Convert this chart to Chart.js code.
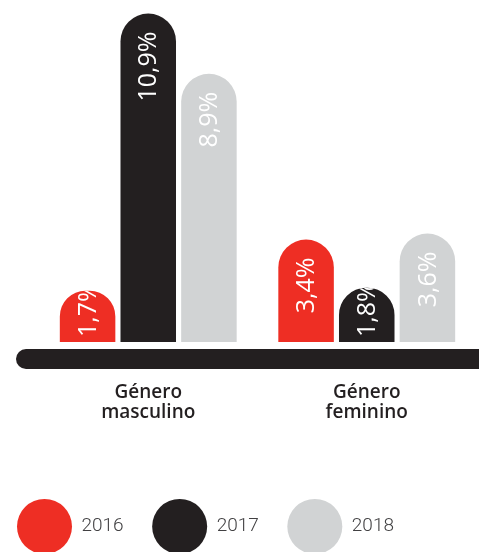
<!DOCTYPE html>
<html>
<head>
<meta charset="utf-8">
<script src="https://cdn.jsdelivr.net/npm/chart.js@4.4.1/dist/chart.umd.min.js"></script>
<style>
  html, body { margin: 0; padding: 0; background: #ffffff; }
  #wrap { width: 479px; height: 552px; position: relative; }
</style>
</head>
<body>
<div id="wrap"><canvas id="c" width="479" height="552"></canvas></div>
<script>
// ---- data ----
const categories = [["Género", "masculino"], ["Género", "feminino"]];
const seriesNames = ["2016", "2017", "2018"];
const values2016 = [1.7, 3.4];
const values2017 = [10.9, 1.8];
const values2018 = [8.9, 3.6];
const seriesColors = ["#ee2e24", "#231f20", "#d1d3d4"];

function fmt(v) { return v.toFixed(1).replace('.', ',') + '%'; }

const baselinePlugin = {
  id: 'baselineBar',
  beforeDatasetsDraw(chart) {
    const ctx = chart.ctx;
    const yScale = chart.scales.y;
    const y0 = yScale.getPixelForValue(0) + 17;
    ctx.save();
    ctx.strokeStyle = '#231f20';
    ctx.lineWidth = 20;
    ctx.lineCap = 'round';
    ctx.beginPath();
    ctx.moveTo(chart.chartArea.left - 13, y0);
    ctx.lineTo(chart.width + 20, y0);
    ctx.stroke();
    ctx.restore();
  }
};

const valueLabelPlugin = {
  id: 'valueLabels',
  afterDatasetsDraw(chart) {
    const ctx = chart.ctx;
    chart.data.datasets.forEach((ds, di) => {
      const meta = chart.getDatasetMeta(di);
      meta.data.forEach((bar, i) => {
        const p = bar.getProps(['x', 'y', 'base', 'width'], true);
        const left = p.x - p.width / 2, w = p.width, top = p.y, h = p.base - p.y;
        const r = Math.min(w / 2, h / 2);
        ctx.save();
        ctx.beginPath();
        ctx.moveTo(left, p.base);
        ctx.lineTo(left, top + r);
        ctx.arc(left + r, top + r, r, Math.PI, 1.5 * Math.PI);
        ctx.lineTo(left + w - r, top);
        ctx.arc(left + w - r, top + r, r, 1.5 * Math.PI, 2 * Math.PI);
        ctx.lineTo(left + w, p.base);
        ctx.closePath();
        ctx.clip();
        ctx.font = '400 25px "Open Sans", sans-serif';
        const txt = fmt(ds.data[i]);
        const len = ctx.measureText(txt).width;
        const end = Math.min(top + 18, p.base - 5 - len);
        ctx.translate(p.x + 1, end);
        ctx.rotate(-Math.PI / 2);
        ctx.textAlign = 'right';
        ctx.textBaseline = 'middle';
        ctx.fillStyle = '#ffffff';
        ctx.fillText(txt, 0, 0);
        ctx.restore();
      });
    });
  }
};

const allValues = [values2016, values2017, values2018];
const datasets = seriesNames.map((name, k) => ({
  label: name,
  data: allValues[k],
  backgroundColor: seriesColors[k],
  borderWidth: 0,
  borderRadius: { topLeft: 40, topRight: 40, bottomLeft: 0, bottomRight: 0 },
  borderSkipped: 'start',
  categoryPercentage: 0.833,
  barPercentage: 0.915
}));

new Chart(document.getElementById('c'), {
  type: 'bar',
  data: { labels: categories, datasets },
  options: {
    responsive: false,
    animation: false,
    layout: { padding: { left: -11.5, right: 3, top: 0, bottom: -12 } },
    plugins: {
      legend: {
        position: 'bottom',
        align: 'start',
        labels: {
          boxWidth: 55,
          boxHeight: 55,
          useBorderRadius: true,
          borderRadius: 27.5,
          padding: 28.5,
          color: '#414042',
          font: { family: 'Roboto', weight: '300', size: 19 }
        }
      },
      tooltip: { enabled: false }
    },
    scales: {
      x: {
        grid: { display: false, drawTicks: false },
        border: { display: false },
        ticks: {
          padding: 41,
          color: '#231f20',
          maxRotation: 0,
          autoSkip: false,
          font: { family: '"Open Sans"', weight: '600', size: 19, lineHeight: 1.05 }
        },
        afterFit(scale) { scale.height = 128.5; }
      },
      y: {
        min: 0,
        max: 11.35,
        grid: { display: false, drawTicks: false },
        border: { display: false },
        ticks: { display: false },
        afterFit(scale) { scale.width = 50.5; }
      }
    }
  },
  plugins: [baselinePlugin, valueLabelPlugin]
});
</script>
</body>
</html>
